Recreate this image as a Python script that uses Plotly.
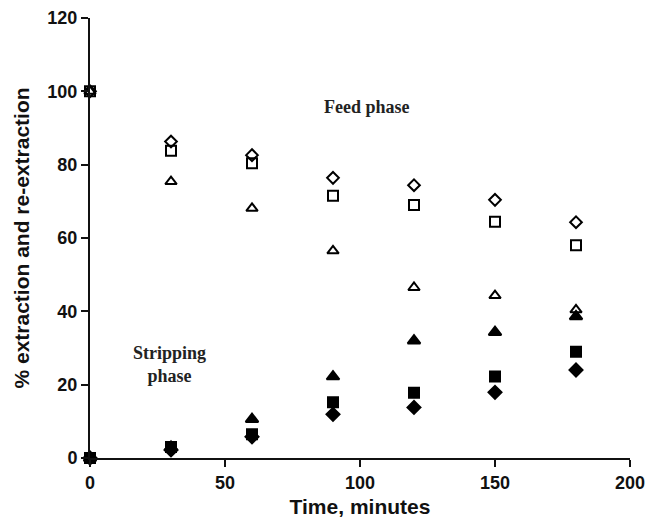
import plotly.graph_objects as go

time = [0, 30, 60, 90, 120, 150, 180]
feed_diamond = [100, 86.3, 82.6, 76.4, 74.4, 70.4, 64.3]
feed_square = [100, 83.8, 80.4, 71.5, 69.0, 64.4, 58.0]
feed_triangle = [100, 75.4, 68.1, 56.5, 46.5, 44.3, 40.4]
strip_diamond = [0, 2.2, 5.8, 11.9, 13.8, 17.9, 24.0]
strip_square = [0, 3.0, 6.5, 15.2, 17.8, 22.2, 29.0]
strip_triangle = [0, 3.0, 10.6, 22.2, 32.0, 34.3, 38.6]

fig = go.Figure()

def add(y, symbol, size):
    fig.add_trace(go.Scatter(
        x=time, y=y, mode="markers", cliponaxis=False, showlegend=False,
        marker=dict(symbol=symbol, size=size, color="black",
                    line=dict(color="black", width=2)),
    ))

add(strip_triangle, "triangle-up", 11)
add(strip_square, "square", 10)
add(strip_diamond, "diamond", 10)
add(feed_triangle, "triangle-up-open", 10)
add(feed_square, "square-open", 10)
add(feed_diamond, "diamond-open", 9)

fig.add_annotation(x=102.6, y=95.7, text="<b>Feed phase</b>", showarrow=False,
                   font=dict(family="Liberation Serif", size=18, color="#222"))
fig.add_annotation(x=29.6, y=25.4, text="<b>Stripping</b><br><b>phase</b>", showarrow=False,
                   font=dict(family="Liberation Serif", size=18, color="#222"))

axis_font = dict(family="Liberation Sans", size=18, color="#111")
title_font = dict(family="Liberation Sans", size=21, color="#111")
fig.update_layout(
    width=647, height=523,
    margin=dict(l=90, r=17, t=18, b=65),
    paper_bgcolor="white", plot_bgcolor="white",
    font=dict(family="Liberation Sans", color="#111"),
    xaxis=dict(range=[0, 200], tickvals=[0, 50, 100, 150, 200],
               ticktext=["<b>0</b>", "<b>50</b>", "<b>100</b>", "<b>150</b>", "<b>200</b>"],
               showgrid=False, zeroline=False, showline=True, linecolor="#111", linewidth=2,
               ticks="outside", ticklen=7, tickwidth=2, tickcolor="#111",
               tickfont=axis_font, automargin=False,
               title=dict(text="<b>Time, minutes</b>", font=title_font, standoff=8)),
    yaxis=dict(range=[0, 120], tickvals=[0, 20, 40, 60, 80, 100, 120],
               ticktext=["<b>%d</b>" % v for v in [0, 20, 40, 60, 80, 100, 120]],
               showgrid=False, zeroline=False, showline=True, linecolor="#111", linewidth=2,
               ticks="outside", ticklen=7, tickwidth=2, tickcolor="#111",
               tickfont=axis_font, automargin=False,
               title=dict(text="<b>% extraction and re-extraction</b>", font=title_font, standoff=12)),
)

fig.write_html("out.html")
